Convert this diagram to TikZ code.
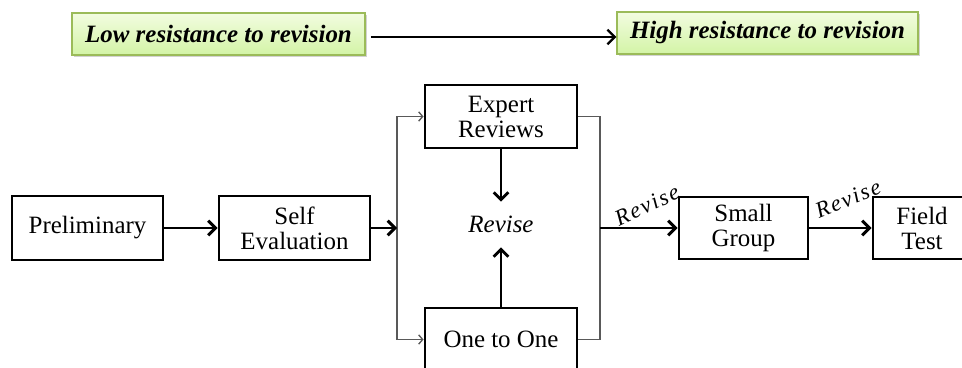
\documentclass[tikz,border=0pt]{standalone}
\usepackage{fontspec}
\setmainfont{Liberation Serif}
\usepackage{xcolor}
\usetikzlibrary{arrows.meta,positioning,shadows}
\definecolor{scaleedge}{HTML}{9BBB59}
\definecolor{scaletop}{HTML}{F2FCE0}
\definecolor{scalebot}{HTML}{D3F4A6}
\newcommand{\boxfont}{\fontsize{18.7}{18.75}\selectfont}

\begin{document}
\begin{tikzpicture}[x=0.75pt,y=-0.75pt,
    scalebox/.style={draw=scaleedge, line width=0.8pt, top color=scaletop, bottom color=scalebot,
        drop shadow={shadow xshift=1.2pt, shadow yshift=-1.5pt, fill=black!35},
        minimum height=31.5pt, inner sep=0pt, font=\boxfont\bfseries\itshape},
    stage/.style={draw, line width=2.2pt, align=center, inner sep=0pt, font=\boxfont},
    flow/.style={line width=2.2pt, -{Straight Barb[length=5.5pt,width=11pt]}},
    branch/.style={line width=1pt, black!65},
    branchin/.style={branch, -{Straight Barb[length=3pt,width=7pt]}},
    revlabel/.style={font=\fontsize{17}{17}\selectfont\itshape\addfontfeature{LetterSpace=8}, inner sep=0pt}]
    \useasboundingbox (0,0) rectangle (962,367);
    \clip (0,0) rectangle (962,367);

    % Resistance scale
    \node[scalebox, minimum width=219.75pt] (low) at (218.5,34) {Low resistance to revision};
    \node[scalebox, minimum width=225.75pt] (high) at (767.5,33) {High resistance to revision};
    \draw[flow, line width=1.8pt, shorten <=4pt]
        ([yshift=-2.25pt]low.east) -- ([yshift=-3pt]high.west);

    % Stages
    \node[stage, minimum width=113.25pt, minimum height=48pt] (prelim) at (87.5,228) {Preliminary};
    \node[stage, minimum width=113.25pt, minimum height=48pt] (self) at (294.5,228) {Self\\Evaluation};
    \node[stage, minimum width=114pt, minimum height=47.25pt] (expert) at (501,116.5) {Expert\\Reviews};
    \node[stage, minimum width=114pt, minimum height=47.25pt] (one) at (501,339.5) {One to One};
    \node[font=\boxfont\itshape, minimum height=33.75pt, inner sep=0pt] (revise) at (501,224.5) {Revise};
    \node[stage, minimum width=96.75pt, minimum height=46.5pt] (small) at (743.5,228) {Small\\Group};
    \node[stage, minimum width=73.5pt, minimum height=46.5pt] (field) at (922,228) {Field\\Test};

    % Branching into the expert / one-to-one pair
    \coordinate (splittop) at (397,116.5);
    \coordinate (splitbot) at (397,339.5);
    \coordinate (splitmid) at (397,228);
    \coordinate (jointop) at (600,116.5);
    \coordinate (joinbot) at (600,339.5);
    \coordinate (joinmid) at (600,228);
    \draw[branch] (splittop) -- (splitbot);
    \draw[branchin] (splittop) -- (expert.west);
    \draw[branchin] (splitbot) -- (one.west);
    \draw[branch] (expert.east) -- (jointop) -- (joinbot) -- (one.east);

    % Main flow
    \draw[flow] (prelim) -- (self);
    \draw[flow] (self) -- (splitmid);
    \draw[flow] (expert) -- (revise);
    \draw[flow] (one) -- (revise);
    \draw[flow] (joinmid) -- (small);
    \draw[flow] (small) -- (field);

    % Revise labels on the later arrows
    \node[revlabel, rotate=25] (revA) at (647,205) {Revise};
    \node[revlabel, rotate=22] (revB) at (848,199) {Revise};
\end{tikzpicture}
\end{document}
